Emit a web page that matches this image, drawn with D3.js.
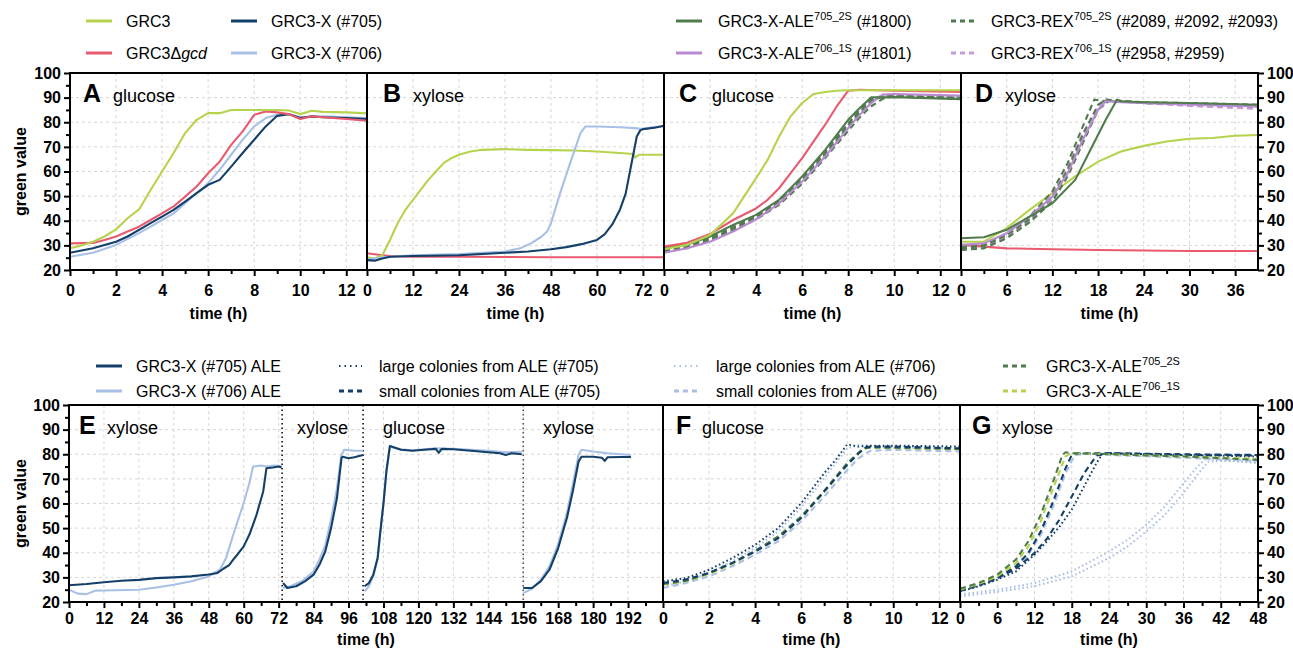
<!DOCTYPE html>
<html>
<head>
<meta charset="utf-8">
<script src="https://cdn.jsdelivr.net/npm/d3@7"></script>
<style>
  body { margin: 0; background: #fff; }
  svg { display: block; }
  text { font-family: "Liberation Sans", Arial, Helvetica, sans-serif; fill: #000; }
</style>
</head>
<body>
<svg id="fig" width="1293" height="655"></svg>
<script>
// ---------- growth curves: [time (h), green value] ----------

// A – glucose
const a_grc3 = [[0,28.8],[0.5,30],[1,31.5],[1.5,33.6],[2,36.5],[2.5,41],[3,44.6],[3.5,52.5],[4,60],[4.5,67.5],[5,75.6],[5.5,81],[6,83.7],[6.5,83.7],[7,85],[8,85],[9,85],[9.5,84.8],[10,83.3],[10.5,84.7],[11,84.2],[12,84],[12.9,83.6]];
const a_gcd  = [[0,30.8],[1,31],[1.5,32.2],[2,33.6],[2.5,35.6],[3,37.6],[3.5,40.3],[4,43],[4.5,45.8],[5,49.8],[5.5,53.9],[6,59.3],[6.5,64],[7,70.8],[7.5,76.3],[8,83],[8.5,84.4],[9,84],[9.5,83.3],[10,81.3],[10.5,82.4],[11,82],[12,81.3],[12.9,80.6]];
const a_x705 = [[0,27],[1,28.8],[2,31.5],[2.5,33.6],[3,36.3],[3.5,39],[4,41.7],[4.5,44.4],[5,47.8],[5.5,51.2],[6,54.6],[6.5,56.6],[7,62],[7.5,67.5],[8,72.9],[8.5,78.3],[9,82.6],[9.5,83.3],[10,81.7],[10.5,82.4],[11,82],[12,81.7],[12.9,81.3]];
const a_x706 = [[0,25.4],[1,27],[2,30.2],[3,35],[3.5,37.6],[4,40.3],[4.5,43],[5,47.1],[5.5,51.2],[6,55.3],[6.5,60.7],[7,66.8],[7.5,72.9],[8,78.3],[8.5,81.7],[9,83],[9.5,83.3],[10,82],[11,82.4],[12,82],[12.9,81.7]];

// B – xylose
const b_grc3 = [[0,25.2],[2,24.7],[4,26],[6,32.2],[8,39],[10,44.4],[12,48.5],[14,52.5],[16,56.6],[18,60],[20,63.4],[22,65.4],[24,66.8],[27,68.1],[30,68.8],[36,69.1],[42,68.8],[48,68.7],[54,68.5],[60,68.1],[66,67.5],[69.5,67.1],[70,65.7],[71,66.8],[77.5,66.8]];
const b_gcd  = [[0,26.8],[3,26.2],[6,25.7],[12,25.4],[24,25.4],[36,25.3],[48,25.2],[60,25.2],[77.5,25.2]];
const b_x705 = [[0,24],[2,23.8],[4,24.7],[6,25.4],[12,25.7],[24,26],[36,27],[42,27.5],[48,28.4],[52,29.3],[56,30.5],[60,32.2],[62,34.5],[64,38.5],[66,44.5],[67.5,51],[68.7,60.7],[70.4,74.2],[71.3,76.7],[72,77.2],[75,77.8],[77.5,78.6]];
const b_x706 = [[0,24.3],[6,25.4],[12,26],[24,26.5],[36,27.5],[40,28.8],[43,31],[45.5,33.5],[47,35.6],[48,39],[50.4,51.2],[53,63.4],[55.7,75.6],[57,78.3],[60,78.3],[66,78],[70,77.6],[72,77.2],[74,77.9],[77.5,78.3]];

// C – glucose
const c_grc3    = [[0,28.4],[1,30.2],[2,34.2],[3,43],[4,57.3],[4.5,64.7],[5,74.2],[5.5,82.4],[6,87.8],[6.5,91.5],[7,92.3],[7.5,92.8],[8,93],[10,93],[12.9,93]];
const c_gcd     = [[0,29.5],[1,31.1],[2,34.6],[3,40.3],[4,45],[4.5,48.5],[5,53.2],[5.5,59.3],[6,65.4],[6.5,72.2],[7,79],[7.5,86.4],[8,92.8],[8.5,93.2],[10,92.8],[12.9,92.3]];
const c_ale1800 = [[0,29.5],[1,30.2],[2,33.6],[3,38.3],[4,42.4],[5,48.5],[6,58],[7,68.8],[8,81],[8.5,85.8],[9,90.1],[9.5,90.1],[10,90.2],[12.9,89.4]];
const c_ale1801 = [[0,27],[1,28.8],[2,31.5],[3,35.6],[4,40.6],[5,47.1],[6,55.9],[7,66.1],[8,77.6],[8.5,83],[9,87.8],[9.5,91.2],[10,91.5],[12.9,90.8]];
const c_rex2089 = [[0,28],[1,29.5],[2,32.5],[3,36.8],[4,41.5],[5,47.5],[6,56.5],[7,67],[8,78.5],[8.5,84],[9,88.5],[9.5,90.5],[10,90.8],[12.9,89.8]];
const c_rex2092 = [[0,28.6],[1,30],[2,33],[3,37.5],[4,42],[5,48],[6,57.5],[7,68],[8,79.5],[8.5,85],[9,89.5],[9.5,90.3],[10,90.5],[12.9,89.5]];
const c_rex2093 = [[0,27.5],[1,29],[2,32],[3,36],[4,40.5],[5,46.5],[6,55],[7,65.5],[8,76.5],[8.5,82],[9,86.5],[9.5,89.5],[10,90.6],[12.9,90]];
const c_rex2958 = [[0,27.2],[1,28.8],[2,31.8],[3,35.8],[4,40.8],[5,47],[6,56],[7,66.5],[8,78],[8.5,83.5],[9,88],[9.5,91],[10,91.2],[12.9,90.5]];
const c_rex2959 = [[0,27.8],[1,29.2],[2,32.2],[3,36.3],[4,41.2],[5,47.3],[6,56.5],[7,67],[8,78.8],[8.5,84.5],[9,89],[9.5,91],[10,91],[12.9,90.2]];

// D – xylose
const d_grc3    = [[0,31.5],[3,31.5],[6,37],[9,44.4],[12,51.2],[15,58],[18,64],[21,68.1],[24,70.4],[27,72.2],[30,73.3],[33,73.6],[36,74.5],[39,74.8]];
const d_gcd     = [[0,30.2],[3,29.5],[6,28.8],[12,28.4],[18,28.1],[24,27.9],[30,27.7],[39,27.7]];
const d_ale1800 = [[0,32.9],[3,33.3],[6,36.3],[9,41.7],[12,47.1],[15,56.6],[17,68.8],[19,81],[20.5,89.2],[21,88.5],[24,88.1],[30,87.8],[39,87.1]];
const d_ale1801 = [[0,30.2],[3,30.8],[6,34.9],[9,41.7],[12,49.8],[14,59.3],[16,72.9],[18,85.1],[19,88.5],[21,88.1],[30,87.1],[39,86.4]];
const d_rex2089 = [[0,29.5],[3,30.2],[6,34.9],[9,41.7],[12,51.9],[14,63.4],[16,78.3],[17.5,89.2],[19,88.5],[24,88.1],[30,87.8],[39,87.1]];
const d_rex2092 = [[0,28.8],[3,29.8],[6,34.2],[9,40.6],[12,49.8],[14,60.7],[16,74.9],[18,87.1],[19,89.2],[24,88.1],[30,87.5],[39,86.8]];
const d_rex2093 = [[0,28.1],[3,28.8],[6,32.9],[9,39.3],[12,47.8],[14,58],[16,71.5],[18,85.1],[19.5,88.9],[24,87.8],[30,87.4],[39,86.4]];
const d_rex2958 = [[0,29.5],[3,30],[6,34.6],[9,41],[12,50.5],[14,61.4],[16,75.6],[18,86.4],[19,88.9],[24,87.8],[30,86.8],[39,85.8]];
const d_rex2959 = [[0,28.4],[3,29.2],[6,33.6],[9,40],[12,48.7],[14,59.3],[16,72.9],[18,85.1],[19.5,88.7],[24,87.8],[30,86.6],[39,85.4]];

// E – sequential ALE batches (xylose, xylose, glucose, xylose)
const e705_s1 = [[0,26.8],[6,27.3],[12,28],[18,28.6],[24,29],[30,29.7],[36,30],[42,30.4],[48,31.2],[51,31.8],[53,33.5],[55,35],[56.4,37.2],[58,39.5],[60,42.6],[62,47.5],[64.4,55.4],[66.7,64.9],[67.8,74.3],[70,74.6],[72,75],[73,74.6]];
const e706_s1 = [[0,25],[3,23.4],[6,23.2],[9,24.6],[12,24.7],[24,25],[30,25.9],[36,27],[42,28.4],[48,30.4],[51.8,33.1],[54,38],[56.4,47.3],[59.8,59.5],[62,68.5],[63.2,75],[66,75.4],[68,75],[70,75.4],[73,75.2]];
const e705_s2 = [[73.5,27.7],[75,25.7],[78,26.4],[81,28.4],[84,31.1],[86,35.1],[88,40.5],[90,50],[92,62],[93.6,78.5],[94,79],[96,78.4],[98,78.8],[101,79.7]];
const e706_s2 = [[73.5,25.7],[76,26.4],[80,28.4],[84,32.4],[86,37.2],[88,43],[90,53.5],[92,66],[93.5,79.5],[94.5,81.8],[98,81.4],[101,81.4]];
const e705_s3 = [[101.5,26.4],[103,27.7],[104.5,31.1],[106,38],[106.8,47.3],[108,60],[109,73],[110.2,83.3],[111,83],[114,81.8],[118,81.4],[122,81.8],[126,82.2],[127,80.6],[128,82.2],[132,82],[138,81.4],[144,80.8],[148,80.4],[150,79.7],[152,80.4],[155.5,80]];
const e706_s3 = [[101.5,24.3],[103,26.4],[104.5,30.5],[106,37.5],[106.8,47],[108,60],[109,73],[110.2,83.2],[111,82.8],[114,82],[118,81.6],[122,82],[126,82.4],[128,82.3],[132,82.2],[138,81.8],[144,81.4],[150,80.8],[155.5,81]];
const e705_s4 = [[156,25.7],[159,25.7],[162,28.4],[165,33.1],[168,41.9],[171,54.1],[173,64.9],[175,77],[176,79],[180,79],[183,78.6],[184,77.3],[185,78.8],[190,78.9],[193,78.9]];
const e706_s4 = [[156,23.6],[159,25.4],[162,29],[165,34.5],[168,43.5],[171,56.1],[173,67.6],[175,79.7],[176,81.8],[180,81.1],[185,80.4],[193,79.7]];
const eBatchEnds = [73.2, 101, 156];

// F – glucose, isolates
const f_l705   = [[0,28.4],[1,29.7],[2,33.1],[3,37.8],[4,43.2],[5,50],[6,60.1],[7,72.3],[7.5,77.7],[8,84],[8.5,83.1],[9,83.5],[10,83.5],[12.9,83.1]];
const f_l706   = [[0,26.4],[1,28.4],[2,31.8],[3,36.5],[4,41.9],[5,48.6],[6,58.4],[7,70.3],[7.5,76.4],[8,82.4],[8.5,83.8],[9,83.1],[12.9,82.2]];
const f_s705   = [[0,27.7],[1,29.1],[2,31.8],[3,35.8],[4,40.5],[5,45.9],[6,54.1],[7,64.9],[8,75.7],[8.5,80.4],[8.8,82.7],[9,83.1],[10,83.1],[12.9,82.4]];
const f_s706   = [[0,25.7],[1,27.7],[2,30.4],[3,34.5],[4,39.2],[5,44.6],[6,52.7],[7,62.8],[8,73.6],[8.5,78.4],[9,81.4],[10,81.8],[12.9,81.1]];
const f_ale705 = [[0,27.3],[1,28.6],[2,31.8],[3,35.8],[4,40.8],[5,46.6],[6,54.7],[7,65.1],[8,76.4],[8.7,82.4],[9,82.8],[12.9,82.2]];
const f_ale706 = [[0,27],[1,28.4],[2,31.4],[3,35.4],[4,40.5],[5,46.2],[6,54.3],[7,64.6],[8,75.7],[8.7,82.2],[9,82.7],[12.9,82]];

// G – xylose, isolates
const g_ale705 = [[0,25.4],[3,27.7],[6,31.1],[9,37.2],[11,44.6],[13,55.4],[15,68.9],[16.5,79.7],[17,80.8],[18,80.4],[24,80.1],[30,79.5],[36,79.1],[42,78.4],[48,77.7]];
const g_ale706 = [[0,25],[3,27.3],[6,30.4],[9,35.8],[11,42.6],[13,52.7],[15,66.2],[17,79.1],[17.8,80.4],[24,80],[36,79.1],[48,78.1]];
const g_s705a  = [[0,24.6],[3,26.8],[6,29.7],[9,34.5],[11,39.9],[13,48.6],[15,60.8],[17,74.3],[18,79.7],[19,80.4],[24,80.4],[36,80],[48,79.7]];
const g_s705b  = [[0,25],[3,27],[6,29.7],[9,33.5],[12,39.9],[14,45.7],[16,53.4],[18,62.8],[20,72.3],[22,79.5],[24,80.4],[36,79.7],[48,79.5]];
const g_s706   = [[0,24.3],[3,26.4],[6,29.3],[9,34.1],[11,39.2],[13,47.3],[15,58.8],[17,72.3],[18.5,79.7],[20,80.1],[24,79.7],[36,78.6],[48,77.3]];
const g_l705   = [[0,24.3],[3,26.4],[6,29.1],[9,32.4],[12,39.2],[14,44.6],[16,50.5],[18,57.5],[20,67],[22,76.5],[23,80.4],[24,80.4],[30,80.1],[36,79.7],[48,79.1]];
const g_l706a  = [[0,23],[6,25],[12,27.7],[18,32.4],[24,40.5],[27,45.3],[30,51.4],[33,58.8],[36,68.2],[38,74.3],[39.5,78.1],[42,77.7],[48,76.4]];
const g_l706b  = [[0,22.3],[6,24.1],[12,26.4],[18,30.4],[24,37.8],[27,42.6],[30,48.6],[33,55.4],[36,64.2],[38,70.9],[40,77],[42,77.3],[48,76.8]];

// axis ticks
const yTicks = [20, 30, 40, 50, 60, 70, 80, 90, 100];
const yMinor = [25, 35, 45, 55, 65, 75, 85, 95];
const ticksGluc = [0, 2, 4, 6, 8, 10, 12];
const ticksB = [0, 12, 24, 36, 48, 60, 72];
const ticksD = [0, 6, 12, 18, 24, 30, 36];
const ticksE = [0, 12, 24, 36, 48, 60, 72, 84, 96, 108, 120, 132, 144, 156, 168, 180, 192];
const ticksG = [0, 6, 12, 18, 24, 30, 36, 42, 48];

// ---------- styles ----------
const col = {
  grc3: "#b5d34c", gcd: "#e95a6f", x705: "#143f69", x706: "#a9c0e6",
  ale705: "#507b4c", ale706: "#b88bd1", rex706: "#c59bd9"
};
const SOLID = null, DASH = "6,4", DOT = "1.6,2.6";

const svg = d3.select("#fig");
svg.append("rect").attr("width", 1293).attr("height", 655).attr("fill", "#fff");

const rows = { top: { y0: 73, y1: 270, tickPad: 9, titleY: 319 },
               bot: { y0: 405, y1: 602, tickPad: 5, titleY: 645 } };

function minorOf(ticks, step, max) {
  const out = [];
  for (let v = step; v < max; v += step) if (!ticks.includes(v)) out.push(v);
  return out;
}

const panels = [
  { x0: 70, x1: 367, row: "top", domain: [0, 12.9], ticks: ticksGluc, minor: 1, yAxis: "left",
    letter: "A", lx: 13, labels: [[43, "glucose"]],
    series: [[a_x706, col.x706, SOLID], [a_x705, col.x705, SOLID], [a_gcd, col.gcd, SOLID], [a_grc3, col.grc3, SOLID]] },
  { x0: 367, x1: 664, row: "top", domain: [0, 77.5], ticks: ticksB, minor: 6,
    letter: "B", lx: 16, labels: [[46, "xylose"]],
    series: [[b_gcd, col.gcd, SOLID], [b_grc3, col.grc3, SOLID], [b_x706, col.x706, SOLID], [b_x705, col.x705, SOLID]] },
  { x0: 664, x1: 961, row: "top", domain: [0, 12.9], ticks: ticksGluc, minor: 1,
    letter: "C", lx: 15, labels: [[48, "glucose"]],
    series: [[c_rex2958, col.rex706, DASH], [c_rex2959, col.rex706, DASH],
             [c_rex2089, col.ale705, DASH], [c_rex2092, col.ale705, DASH], [c_rex2093, col.ale705, DASH],
             [c_ale1801, col.ale706, SOLID], [c_ale1800, col.ale705, SOLID],
             [c_gcd, col.gcd, SOLID], [c_grc3, col.grc3, SOLID]] },
  { x0: 961, x1: 1258, row: "top", domain: [0, 39], ticks: ticksD, minor: 3, yAxis: "right",
    letter: "D", lx: 14, labels: [[44, "xylose"]],
    series: [[d_gcd, col.gcd, SOLID], [d_grc3, col.grc3, SOLID],
             [d_rex2958, col.rex706, DASH], [d_rex2959, col.rex706, DASH],
             [d_rex2089, col.ale705, DASH], [d_rex2092, col.ale705, DASH], [d_rex2093, col.ale705, DASH],
             [d_ale1801, col.ale706, SOLID], [d_ale1800, col.ale705, SOLID]] },
  { x0: 69, x1: 663, row: "bot", domain: [0, 204], ticks: ticksE, minor: 6, yAxis: "left",
    letter: "E", lx: 10, labels: [[38, "xylose"], [228, "xylose"], [314, "glucose"], [474, "xylose"]],
    breaks: eBatchEnds,
    series: [[e706_s1, col.x706, SOLID], [e706_s2, col.x706, SOLID], [e706_s3, col.x706, SOLID], [e706_s4, col.x706, SOLID],
             [e705_s1, col.x705, SOLID], [e705_s2, col.x705, SOLID], [e705_s3, col.x705, SOLID], [e705_s4, col.x705, SOLID]] },
  { x0: 663, x1: 960, row: "bot", domain: [0, 12.9], ticks: ticksGluc, minor: 1,
    letter: "F", lx: 13, labels: [[39, "glucose"]],
    series: [[f_s706, col.x706, DASH], [f_l706, col.x706, DOT], [f_ale706, col.grc3, DASH],
             [f_ale705, col.ale705, DASH], [f_s705, col.x705, DASH], [f_l705, col.x705, DOT]] },
  { x0: 960, x1: 1258, row: "bot", domain: [0, 48], ticks: ticksG, minor: 3, yAxis: "right",
    letter: "G", lx: 12, labels: [[42, "xylose"]],
    series: [[g_l706a, col.x706, DOT], [g_l706b, col.x706, DOT], [g_s706, col.x706, DASH],
             [g_l705, col.x705, DOT], [g_s705b, col.x705, DASH], [g_s705a, col.x705, DASH],
             [g_ale706, col.grc3, DASH], [g_ale705, col.ale705, DASH]] }
];

const defs = svg.append("defs");

panels.forEach((p, i) => {
  const r = rows[p.row];
  const x = d3.scaleLinear().domain(p.domain).range([p.x0, p.x1]);
  const y = d3.scaleLinear().domain([20, 100]).range([r.y1, r.y0]);
  const g = svg.append("g");

  // grid
  g.selectAll(".gx").data(p.ticks.filter(t => t > 0 && x(t) < p.x1 - 3)).join("line")
    .attr("x1", d => x(d)).attr("x2", d => x(d)).attr("y1", r.y0).attr("y2", r.y1)
    .attr("stroke", "#d6d6d6").attr("stroke-width", 1).attr("stroke-dasharray", "3,3");
  g.selectAll(".gy").data(yTicks.filter(v => v > 20 && v < 100)).join("line")
    .attr("x1", p.x0).attr("x2", p.x1).attr("y1", d => y(d)).attr("y2", d => y(d))
    .attr("stroke", "#d6d6d6").attr("stroke-width", 1).attr("stroke-dasharray", "3,3");

  // batch separators
  if (p.breaks) {
    g.selectAll(".br").data(p.breaks).join("line")
      .attr("x1", d => x(d)).attr("x2", d => x(d)).attr("y1", r.y0).attr("y2", r.y1)
      .attr("stroke", (d, j) => j === 2 ? "#555" : "#111").attr("stroke-width", 1.6)
      .attr("stroke-dasharray", "1.5,3");
  }

  // curves
  const clipId = "clip" + i;
  defs.append("clipPath").attr("id", clipId).append("rect")
    .attr("x", p.x0).attr("y", r.y0).attr("width", p.x1 - p.x0).attr("height", r.y1 - r.y0);
  const line = d3.line().x(d => x(d[0])).y(d => y(d[1]));
  const lg = g.append("g").attr("clip-path", `url(#${clipId})`);
  p.series.forEach(([data, color, dash]) => {
    lg.append("path").attr("d", line(data)).attr("fill", "none")
      .attr("stroke", color).attr("stroke-width", dash === DOT ? 2 : 2.1)
      .attr("stroke-linejoin", "round")
      .attr("stroke-dasharray", dash);
  });

  // frame
  g.append("rect").attr("x", p.x0).attr("y", r.y0).attr("width", p.x1 - p.x0).attr("height", r.y1 - r.y0)
    .attr("fill", "none").attr("stroke", "#000").attr("stroke-width", 2);

  // x axis
  const xa = g.append("g").attr("transform", `translate(0,${r.y1})`)
    .call(d3.axisBottom(x).tickValues(p.ticks).tickSize(6).tickPadding(r.tickPad).tickFormat(d3.format("d")));
  const xm = g.append("g").attr("transform", `translate(0,${r.y1})`)
    .call(d3.axisBottom(x).tickValues(minorOf(p.ticks, p.minor, p.domain[1])).tickSize(4).tickFormat(""));
  [xa, xm].forEach(a => { a.select(".domain").remove(); a.selectAll("line").attr("stroke", "#000").attr("stroke-width", 2); });
  xa.selectAll("text").attr("font-size", 16).attr("font-weight", "bold")
    .attr("font-family", '"Liberation Sans", Arial, sans-serif').attr("fill", "#000");

  g.append("text").attr("x", (p.x0 + p.x1) / 2).attr("y", r.titleY).attr("text-anchor", "middle")
    .attr("font-size", 16).attr("font-weight", "bold").text("time (h)");

  // y axis
  if (p.yAxis) {
    const left = p.yAxis === "left";
    const ax = left ? d3.axisLeft(y) : d3.axisRight(y);
    const ax2 = left ? d3.axisLeft(y) : d3.axisRight(y);
    const xpos = left ? p.x0 : p.x1;
    const ya = g.append("g").attr("transform", `translate(${xpos},0)`)
      .call(ax.tickValues(yTicks).tickSize(6).tickPadding(3).tickFormat(d3.format("d")));
    const ym = g.append("g").attr("transform", `translate(${xpos},0)`)
      .call(ax2.tickValues(yMinor).tickSize(4).tickFormat(""));
    [ya, ym].forEach(a => { a.select(".domain").remove(); a.selectAll("line").attr("stroke", "#000").attr("stroke-width", 2); });
    ya.selectAll("text").attr("font-size", 16).attr("font-weight", "bold")
      .attr("font-family", '"Liberation Sans", Arial, sans-serif').attr("fill", "#000");
    if (left) {
      const cy = (r.y0 + r.y1) / 2;
      g.append("text").attr("transform", `translate(26,${cy}) rotate(-90)`).attr("text-anchor", "middle")
        .attr("font-size", 16).attr("font-weight", "bold").text("green value");
    }
  }

  // panel letter and medium
  const ly = r.y0 + 29;
  g.append("text").attr("x", p.x0 + p.lx).attr("y", ly).attr("font-size", 25).attr("font-weight", "bold").text(p.letter);
  p.labels.forEach(([dx, t]) => {
    g.append("text").attr("x", p.x0 + dx).attr("y", ly).attr("font-size", 18).text(t);
  });
});

// ---------- legends ----------
function legendItem(x1, x2, tx, y, color, dash, parts) {
  const g = svg.append("g");
  g.append("line").attr("x1", x1).attr("x2", x2).attr("y1", y).attr("y2", y)
    .attr("stroke", color).attr("stroke-width", dash === DOT ? 2 : 3)
    .attr("stroke-dasharray", dash === DOT ? "1.5,4" : dash === DASH ? "5,4" : null);
  const t = g.append("text").attr("x", tx).attr("y", y + 5.5).attr("font-size", 16);
  let raised = false;
  parts.forEach(pt => {
    const s = t.append("tspan").text(pt.t);
    if (pt.sup) { s.attr("font-size", 11).attr("dy", -7); raised = true; }
    else if (raised) { s.attr("dy", 7); raised = false; }
    if (pt.it) s.attr("font-style", "italic");
  });
}

legendItem(86, 112, 126, 21, col.grc3, SOLID, [{ t: "GRC3" }]);
legendItem(86, 112, 126, 53, col.gcd, SOLID, [{ t: "GRC3Δ" }, { t: "gcd", it: true }]);
legendItem(231, 257, 271, 21, col.x705, SOLID, [{ t: "GRC3-X (#705)" }]);
legendItem(231, 257, 271, 53, col.x706, SOLID, [{ t: "GRC3-X (#706)" }]);

legendItem(676, 702, 718, 21, col.ale705, SOLID, [{ t: "GRC3-X-ALE" }, { t: "705_2S", sup: true }, { t: " (#1800)" }]);
legendItem(676, 702, 718, 53, col.ale706, SOLID, [{ t: "GRC3-X-ALE" }, { t: "706_1S", sup: true }, { t: " (#1801)" }]);
legendItem(951, 975, 991, 21, col.ale705, DASH, [{ t: "GRC3-REX" }, { t: "705_2S", sup: true }, { t: " (#2089, #2092, #2093)" }]);
legendItem(951, 975, 991, 53, col.rex706, DASH, [{ t: "GRC3-REX" }, { t: "706_1S", sup: true }, { t: " (#2958, #2959)" }]);

legendItem(96, 122, 136, 366, col.x705, SOLID, [{ t: "GRC3-X (#705) ALE" }]);
legendItem(96, 122, 136, 391, col.x706, SOLID, [{ t: "GRC3-X (#706) ALE" }]);
legendItem(339, 362, 379, 366, col.x705, DOT, [{ t: "large colonies from ALE (#705)" }]);
legendItem(339, 362, 379, 391, col.x705, DASH, [{ t: "small colonies from ALE (#705)" }]);
legendItem(674, 698, 716, 366, col.x706, DOT, [{ t: "large colonies from ALE (#706)" }]);
legendItem(674, 698, 716, 391, col.x706, DASH, [{ t: "small colonies from ALE (#706)" }]);
legendItem(1003, 1029, 1046, 366, col.ale705, DASH, [{ t: "GRC3-X-ALE" }, { t: "705_2S", sup: true }]);
legendItem(1003, 1029, 1046, 391, col.grc3, DASH, [{ t: "GRC3-X-ALE" }, { t: "706_1S", sup: true }]);
</script>
</body>
</html>
